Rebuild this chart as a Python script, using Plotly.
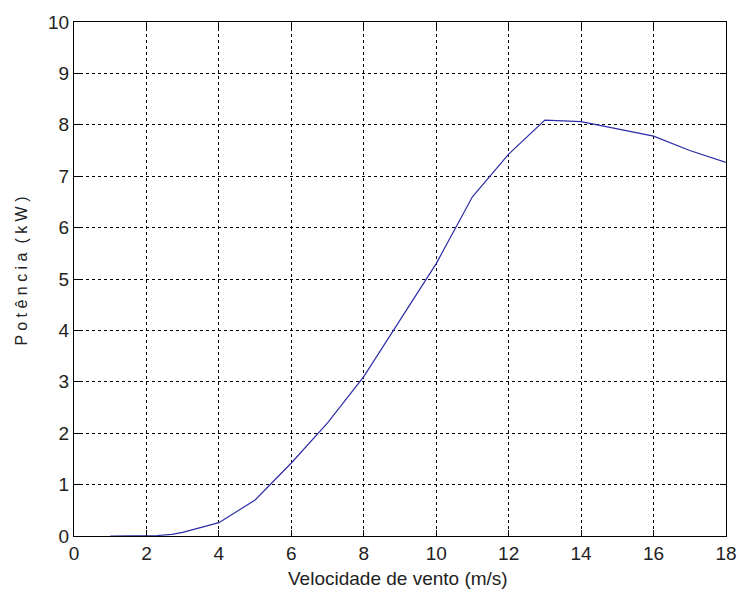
import plotly.graph_objects as go

# Wind turbine power curve
velocidade = [1, 2, 2.3, 2.7, 3, 4, 5, 6, 7, 8, 9, 10, 11, 12, 13, 14, 15, 16, 17, 18]
potencia = [0, 0, 0.01, 0.03, 0.07, 0.26, 0.7, 1.42, 2.2, 3.1, 4.2, 5.3, 6.6, 7.43, 8.09, 8.06, 7.92, 7.78, 7.5, 7.27]

x_ticks = list(range(0, 19, 2))
y_ticks = list(range(0, 11, 1))

x_title = "Velocidade de vento (m/s)"
y_title = "P o t ê n c i a  ( k W )"

TICK_FONT = dict(family="Liberation Sans, Arial, sans-serif", size=19, color="#222")
TITLE_FONT = "Liberation Sans, Arial, sans-serif"

fig = go.Figure()
fig.add_trace(go.Scatter(
    x=velocidade, y=potencia, mode="lines",
    line=dict(color="#2c2ca6", width=1.2),
    showlegend=False,
))

axis_common = dict(
    showline=True, linecolor="black", linewidth=1.2, mirror="ticks",
    ticks="inside", ticklen=6, tickcolor="black", tickwidth=1,
    showgrid=True, gridcolor="black", gridwidth=1, griddash="3px,3px",
    zeroline=False, tickfont=TICK_FONT,
)

fig.update_xaxes(range=[0, 18], tickvals=x_ticks, **axis_common)
fig.update_yaxes(range=[0, 10], tickvals=y_ticks, **axis_common)

fig.add_annotation(
    text=x_title, xref="paper", yref="paper", x=0.497, y=-0.0835,
    xanchor="center", yanchor="middle", showarrow=False,
    font=dict(family=TITLE_FONT, size=19, color="#222"),
)
fig.add_annotation(
    text=y_title, xref="paper", yref="paper", x=-0.0808, y=0.515,
    xanchor="center", yanchor="middle", showarrow=False, textangle=-90,
    font=dict(family=TITLE_FONT, size=16, color="#222"),
)

fig.update_layout(
    width=749, height=592,
    margin=dict(l=74, r=14, t=14, b=56),
    paper_bgcolor="white", plot_bgcolor="white",
)

fig.write_html("out.html")
